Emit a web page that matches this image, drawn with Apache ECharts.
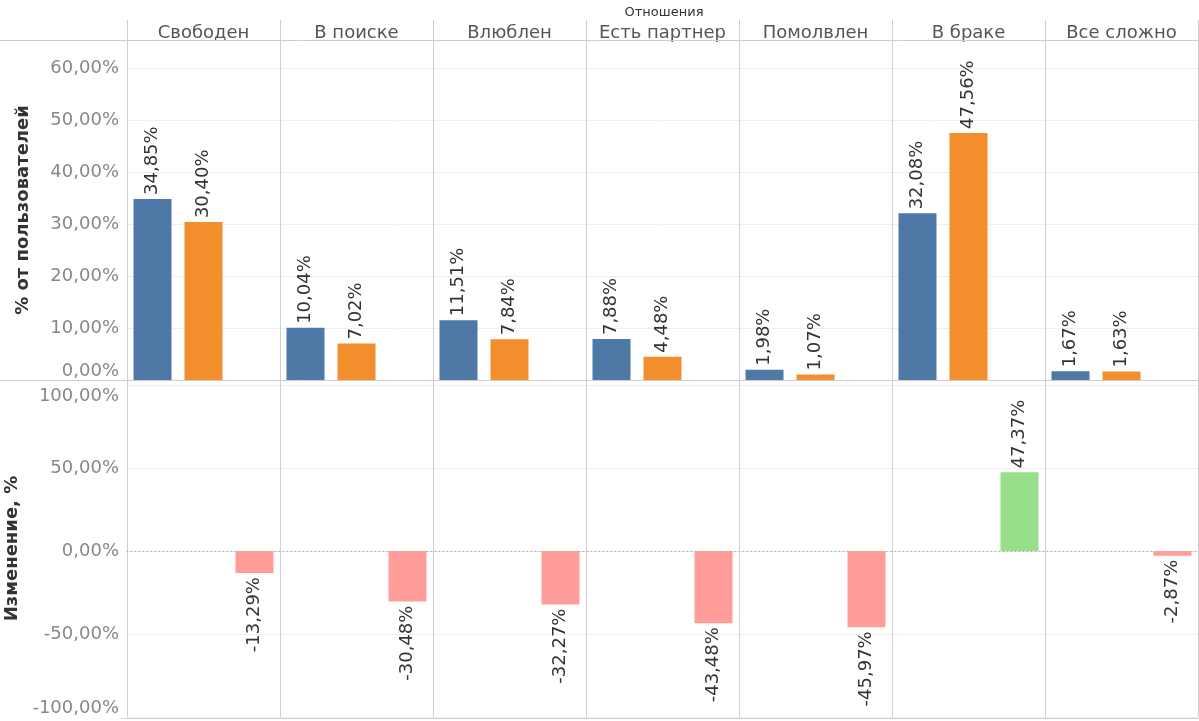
<!DOCTYPE html>
<html><head><meta charset="utf-8">
<script src="https://cdn.jsdelivr.net/npm/echarts@6/dist/echarts.min.js"></script>
<style>html,body{margin:0;padding:0;background:#fff}#c{width:1199px;height:721px}</style>
</head><body><div id="c"></div>
<script>
const categories = ['Свободен','В поиске','Влюблен','Есть партнер','Помолвлен','В браке','Все сложно'];
const seriesA = [34.85, 10.04, 11.51, 7.88, 1.98, 32.08, 1.67];
const seriesB = [30.40, 7.02, 7.84, 4.48, 1.07, 47.56, 1.63];
const change = [-13.29, -30.48, -32.27, -43.48, -45.97, 47.37, -2.87];
const topTicks = [0, 10, 20, 30, 40, 50, 60];
const bottomTicks = [-100, -50, 0, 50, 100];

const FONT = 'DejaVu Sans';
const fmt = v => v.toFixed(2).replace('.', ',') + '%';
const slots = [];
categories.forEach((c, i) => { slots.push(c + '_a', c + '_b', c + '_c'); });
const spread = (arr, k, filter) => {
  const out = new Array(slots.length).fill(null);
  arr.forEach((v, i) => { if (!filter || filter(v)) out[i * 3 + k] = v; });
  return out;
};

const L = 127, W = 1071;
const chart = echarts.init(document.getElementById('c'));
const barLabelTop = {show: true, position: 'top', rotate: 90, align: 'left', verticalAlign: 'middle', distance: 4,
  fontFamily: FONT, fontSize: 18, color: '#333', formatter: p => fmt(p.value)};
const barLabelBottom = {show: true, position: 'bottom', rotate: 90, align: 'right', verticalAlign: 'middle', distance: 4,
  fontFamily: FONT, fontSize: 18, color: '#333', formatter: p => fmt(p.value)};
const sepAxis = (grid) => ({type: 'category', gridIndex: grid, data: categories, boundaryGap: true,
  axisLine: {show: false}, axisTick: {show: false}, axisLabel: {show: false},
  splitLine: {show: true, interval: 0, lineStyle: {color: '#cfcfcf', width: 1}}});
const tickStyle = {fontFamily: FONT, fontSize: 18, color: '#888'};

chart.setOption({
  animation: false,
  textStyle: {fontFamily: FONT},
  title: {text: 'Отношения', left: 659, textAlign: 'center', top: 1,
    textStyle: {fontFamily: FONT, fontSize: 13, fontWeight: 'normal', color: '#333'}},
  graphic: [
    {type: 'line', shape: {x1: 0, y1: 40.5, x2: 1199, y2: 40.5}, style: {stroke: '#cfcfcf', lineWidth: 1}, z: 10},
    {type: 'line', shape: {x1: 0, y1: 380.5, x2: 1199, y2: 380.5}, style: {stroke: '#cfcfcf', lineWidth: 1}, z: 10},
    {type: 'line', shape: {x1: 122, y1: 718.5, x2: 1199, y2: 718.5}, style: {stroke: '#cfcfcf', lineWidth: 1}, z: 10}
  ],
  grid: [
    {left: L, width: W, top: 20, height: 20, outerBoundsMode: 'none', containLabel: false},
    {left: L, width: W, top: 40, height: 340, outerBoundsMode: 'none', containLabel: false},
    {left: L, width: W, top: 380, height: 337, outerBoundsMode: 'none', containLabel: false}
  ],
  xAxis: [
    {type: 'category', gridIndex: 0, data: categories, position: 'bottom', boundaryGap: true,
      axisLine: {show: false}, axisTick: {show: false},
      axisLabel: {show: true, inside: true, interval: 0, margin: -2, verticalAlign: 'bottom',
        fontFamily: FONT, fontSize: 18, color: '#555'},
      splitLine: {show: true, interval: 0, lineStyle: {color: '#cfcfcf'}}},
    {type: 'category', gridIndex: 1, data: slots, show: false},
    sepAxis(1),
    {type: 'category', gridIndex: 2, data: slots, show: true,
      axisLine: {show: true, onZero: true, lineStyle: {color: '#b0b0b0', type: [1, 3], width: 1}},
      axisTick: {show: false}, axisLabel: {show: false}, splitLine: {show: false}},
    sepAxis(2)
  ],
  yAxis: [
    {type: 'value', gridIndex: 0, show: false, min: 0, max: 1},
    {type: 'value', gridIndex: 1, min: topTicks[0], max: 65.45, interval: 10,
      name: '% от пользователей', nameLocation: 'middle', nameRotate: 90, nameGap: 95,
      nameTextStyle: {fontFamily: FONT, fontSize: 18, fontWeight: 'bold', color: '#333'},
      axisLine: {show: false}, axisTick: {show: false},
      axisLabel: Object.assign({margin: 8, verticalAlignMinLabel: 'bottom',
        formatter: v => topTicks.includes(v) ? fmt(v) : ''}, tickStyle),
      splitLine: {show: true, lineStyle: {color: '#efefef'}}},
    {type: 'value', gridIndex: 2, min: bottomTicks[0], max: 103, interval: 50,
      name: 'Изменение, %', nameLocation: 'middle', nameRotate: 90, nameGap: 96,
      nameTextStyle: {fontFamily: FONT, fontSize: 18, fontWeight: 'bold', color: '#333'},
      axisLine: {show: false}, axisTick: {show: false},
      axisLabel: Object.assign({margin: 8, verticalAlignMinLabel: 'bottom',
        formatter: v => !bottomTicks.includes(v) ? '' :
          (v === bottomTicks[bottomTicks.length - 1] ? '{dn|' + fmt(v) + '}' : fmt(v)),
        rich: {dn: Object.assign({padding: [22, 0, 0, 0]}, tickStyle)}}, tickStyle),
      splitLine: {show: true, lineStyle: {color: '#efefef'}}}
  ],
  series: [
    {type: 'bar', name: 'A', xAxisIndex: 1, yAxisIndex: 1, data: spread(seriesA, 0), barWidth: 38, barGap: '-100%',
      itemStyle: {color: '#4e79a7'}, label: barLabelTop},
    {type: 'bar', name: 'B', xAxisIndex: 1, yAxisIndex: 1, data: spread(seriesB, 1), barWidth: 38, barGap: '-100%',
      itemStyle: {color: '#f28e2b'}, label: barLabelTop},
    {type: 'bar', name: 'neg', xAxisIndex: 3, yAxisIndex: 2, data: spread(change, 2, v => v < 0), barWidth: 38, barGap: '-100%',
      itemStyle: {color: '#ff9d9a'}, label: barLabelBottom},
    {type: 'bar', name: 'pos', xAxisIndex: 3, yAxisIndex: 2, data: spread(change, 2, v => v >= 0), barWidth: 38, barGap: '-100%',
      itemStyle: {color: '#98df8a'}, label: barLabelTop}
  ]
});
</script></body></html>
